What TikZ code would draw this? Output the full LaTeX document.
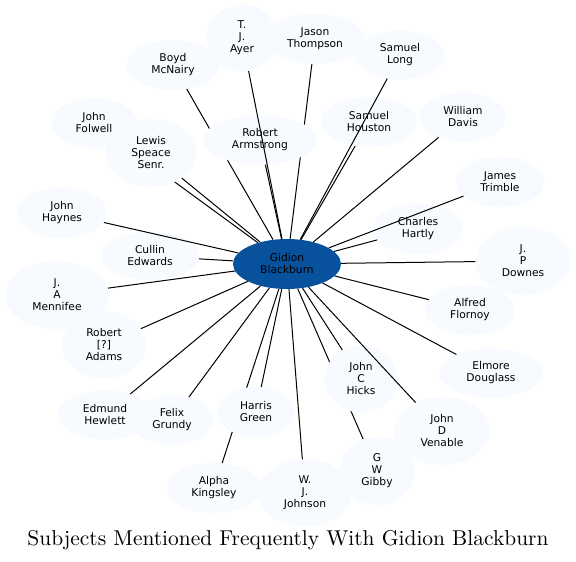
\documentclass[tikz,border=0pt]{standalone}
\usepackage{fontspec}
\usepackage{xcolor}
\usepackage{graphicx}
\usetikzlibrary{shapes.geometric, backgrounds}

\newfontfamily\personfont{DejaVu Sans}
\definecolor{hubblue}{HTML}{08519C}
\definecolor{palefill}{HTML}{F7FBFF}

\begin{document}
\begin{tikzpicture}[
    x=1pt, y=-1pt,
    person/.style={ellipse, fill=palefill, inner sep=0pt, align=center, font=\personfont\fontsize{10.7}{12}\selectfont},
    hub/.style={person, fill=hubblue, minimum width=108pt, minimum height=50pt},
    link/.style={line width=1pt, color=black}
]
    \useasboundingbox (0,0) rectangle (576,562);

    % Central subject
    \node[hub] (gidion) at (287,264) {Gidion\\Blackburn};

    % Top arc
    \node[person, minimum width=70pt, minimum height=67pt] (ayer) at (242,38) {T.\\J.\\Ayer};
    \node[person, minimum width=100pt, minimum height=50pt] (thompson) at (315,39) {Jason\\Thompson};
    \node[person, minimum width=89pt, minimum height=49pt] (long) at (400,55) {Samuel\\Long};
    \node[person, minimum width=93pt, minimum height=50pt] (mcnairy) at (173,65) {Boyd\\McNairy};
    \node[person, minimum width=96pt, minimum height=50pt] (houston) at (369,122) {Samuel\\Houston};
    \node[person, minimum width=87pt, minimum height=49pt] (davis) at (463,117) {William\\Davis};
    \node[person, minimum width=86pt, minimum height=49pt] (folwell) at (94,123) {John\\Folwell};
    \node[person, minimum width=90pt, minimum height=68pt] (speace) at (151,153) {Lewis\\Speace\\Senr.};
    \node[person, minimum width=114pt, minimum height=49pt] (armstrong) at (260,140) {Robert\\Armstrong};

    % Right side
    \node[person, minimum width=88pt, minimum height=50pt] (trimble) at (500,182) {James\\Trimble};
    \node[person, minimum width=90pt, minimum height=50pt] (hartly) at (418,229) {Charles\\Hartly};
    \node[person, minimum width=95pt, minimum height=68pt] (downes) at (523,261) {J.\\P\\Downes};
    \node[person, minimum width=90pt, minimum height=50pt] (flornoy) at (470,310) {Alfred\\Flornoy};
    \node[person, minimum width=104pt, minimum height=49pt] (douglass) at (491,373) {Elmore\\Douglass};

    % Left side
    \node[person, minimum width=90pt, minimum height=50pt] (haynes) at (62,213) {John\\Haynes};
    \node[person, minimum width=98pt, minimum height=48pt] (edwards) at (150,256) {Cullin\\Edwards};
    \node[person, minimum width=104pt, minimum height=68pt] (mennifee) at (57,295) {J.\\A\\Mennifee};
    \node[person, minimum width=84pt, minimum height=67pt] (adams) at (104,345) {Robert\\{[?]}\\Adams};

    % Bottom arc
    \node[person, minimum width=94pt, minimum height=49pt] (hewlett) at (105,415) {Edmund\\Hewlett};
    \node[person, minimum width=82pt, minimum height=50pt] (grundy) at (172,420) {Felix\\Grundy};
    \node[person, minimum width=78pt, minimum height=50pt] (green) at (256,412) {Harris\\Green};
    \node[person, minimum width=73pt, minimum height=67pt] (hicks) at (361,379) {John\\C\\Hicks};
    \node[person, minimum width=95pt, minimum height=68pt] (venable) at (442,431) {John\\D\\Venable};
    \node[person, minimum width=76pt, minimum height=68pt] (gibby) at (377,471) {G\\W\\Gibby};
    \node[person, minimum width=94pt, minimum height=67pt] (johnson) at (305,493) {W.\\J.\\Johnson};
    \node[person, minimum width=94pt, minimum height=50pt] (kingsley) at (214,488) {Alpha\\Kingsley};

    % Title
    \node (title) at (288,540) {\resizebox{521pt}{!}{Subjects Mentioned Frequently With Gidion Blackburn}};

    % White page, then the edges hidden behind other nodes
    \begin{pgfonlayer}{background}
        \fill[white] (0,0) rectangle (576,562);
        \foreach \who in {mcnairy, thompson, folwell, kingsley, gibby}
            \draw[link] (gidion) -- (\who);
    \end{pgfonlayer}

    % Edges on top
    \foreach \who in {ayer, long, houston, davis, speace, armstrong, trimble, hartly, downes,
                      flornoy, douglass, haynes, edwards, mennifee, adams, hewlett, grundy,
                      green, hicks, venable, johnson}
        \draw[link] (gidion) -- (\who);
\end{tikzpicture}
\end{document}
